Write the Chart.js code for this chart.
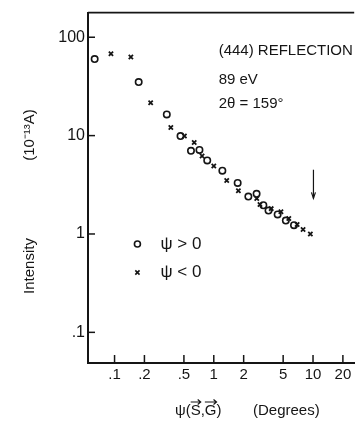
<!DOCTYPE html>
<html>
<head>
<meta charset="utf-8">
<script src="https://cdn.jsdelivr.net/npm/chart.js@4/dist/chart.umd.min.js"></script>
<style>
  html, body { margin: 0; padding: 0; background: #fff; }
  #wrap { width: 360px; height: 423px; }
</style>
</head>
<body>
<div id="wrap"><canvas id="myChart"></canvas></div>
<script>
// psi > 0 (open circles)
const posPsi = [0.063, 0.175, 0.336, 0.462, 0.589, 0.717, 0.859, 1.22, 1.74, 2.23, 2.70, 3.16, 3.56, 4.40, 5.32, 6.43];
const posInt = [60, 35, 16.4, 9.9, 7.0, 7.15, 5.6, 4.4, 3.3, 2.4, 2.56, 1.96, 1.73, 1.58, 1.37, 1.23];
// psi < 0 (crosses)
const negPsi = [0.092, 0.146, 0.231, 0.369, 0.506, 0.635, 0.762, 1.0, 1.35, 1.77, 2.71, 2.92, 3.79, 4.75, 5.70, 6.92, 7.94, 9.4];
const negInt = [68, 63, 21.6, 12.1, 9.9, 8.5, 6.2, 4.9, 3.5, 2.75, 2.3, 1.99, 1.81, 1.68, 1.44, 1.25, 1.11, 1.0];

const xTicks = [0.1, 0.2, 0.5, 1, 2, 5, 10, 20];
const xTickLabels = ['.1', '.2', '.5', '1', '2', '5', '10', '20'];
const yTicks = [0.1, 1, 10, 100];
const yTickLabels = ['.1', '1', '10', '100'];

const ink = '#151515';
const font = 'Liberation Sans, Arial, sans-serif';

function toPoints (xs, ys) {
  return xs.map((x, i) => ({ x: x, y: ys[i] }));
}

// little vector arrow over a letter
function vecArrow (ctx, x0, x1, y) {
  ctx.beginPath();
  ctx.moveTo(x0, y);
  ctx.lineTo(x1, y);
  ctx.moveTo(x1 - 3, y - 2.5);
  ctx.lineTo(x1, y);
  ctx.lineTo(x1 - 3, y + 2.5);
  ctx.stroke();
}

// inward ticks, top frame, notes, legend and axis titles
const decor = {
  id: 'decor',
  afterDraw (chart) {
    const ctx = chart.ctx;
    const xs = chart.scales.x;
    const ys = chart.scales.y;
    const area = chart.chartArea;
    ctx.save();
    ctx.strokeStyle = ink;
    ctx.fillStyle = ink;
    ctx.lineWidth = 1.8;

    // top frame line
    ctx.beginPath();
    ctx.moveTo(area.left, area.top);
    ctx.lineTo(area.right, area.top);
    ctx.stroke();

    // ticks pointing into the plot
    ctx.lineWidth = 1.5;
    xTicks.forEach(v => {
      const px = xs.getPixelForValue(v);
      ctx.beginPath();
      ctx.moveTo(px, area.bottom);
      ctx.lineTo(px, area.bottom - 8);
      ctx.stroke();
    });
    yTicks.forEach(v => {
      const py = ys.getPixelForValue(v);
      ctx.beginPath();
      ctx.moveTo(area.left, py);
      ctx.lineTo(area.left + 7, py);
      ctx.stroke();
    });

    // arrow at psi = 10
    const ax = xs.getPixelForValue(10.1);
    const ay1 = ys.getPixelForValue(4.5);
    const ay2 = ys.getPixelForValue(2.3);
    ctx.lineWidth = 1.2;
    ctx.beginPath();
    ctx.moveTo(ax, ay1);
    ctx.lineTo(ax, ay2);
    ctx.stroke();
    ctx.beginPath();
    ctx.moveTo(ax - 2, ay2 - 6);
    ctx.lineTo(ax, ay2);
    ctx.lineTo(ax + 2, ay2 - 6);
    ctx.stroke();

    // notes
    ctx.font = '15px ' + font;
    ctx.textBaseline = 'middle';
    ctx.textAlign = 'left';
    const nx = xs.getPixelForValue(1.12);
    ctx.fillText('(444) REFLECTION', nx, ys.getPixelForValue(72));
    ctx.fillText('89 eV', nx, ys.getPixelForValue(37));
    ctx.fillText('2θ = 159°', nx, ys.getPixelForValue(21.2));

    // legend
    const lx = xs.getPixelForValue(0.17);
    const ly1 = ys.getPixelForValue(0.79);
    const ly2 = ys.getPixelForValue(0.406);
    ctx.lineWidth = 1.6;
    ctx.fillStyle = 'rgba(0,0,0,0)';
    Chart.helpers.drawPoint(ctx, { pointStyle: 'circle', radius: 3, borderWidth: 1.6 }, lx, ly1);
    Chart.helpers.drawPoint(ctx, { pointStyle: 'crossRot', radius: 3, borderWidth: 1.8 }, lx, ly2);
    ctx.fillStyle = ink;
    ctx.font = '17px ' + font;
    ctx.fillText('ψ > 0', lx + 23, ly1);
    ctx.fillText('ψ < 0', lx + 23, ly2);

    // x title, with vector arrows over S and G
    ctx.font = '15px ' + font;
    const tx = 175, ty = 411;
    ctx.fillText('ψ(S,G)', tx, ty);
    const wPre = ctx.measureText('ψ(').width;
    const wS = ctx.measureText('S').width;
    const wPreG = ctx.measureText('ψ(S,').width;
    const wG = ctx.measureText('G').width;
    ctx.lineWidth = 1.2;
    vecArrow(ctx, tx + wPre, tx + wPre + wS, ty - 9);
    vecArrow(ctx, tx + wPreG, tx + wPreG + wG, ty - 9);
    ctx.fillText('(Degrees)', 253, ty);

    // y title
    ctx.translate(30, 0);
    ctx.rotate(-Math.PI / 2);
    ctx.textAlign = 'center';
    ctx.fillText('Intensity', -266, 0);
    ctx.fillText('(10⁻¹³A)', -135, 0);
    ctx.restore();
  }
};

const ctx = document.getElementById('myChart').getContext('2d');
const chart = new Chart(ctx, {
  type: 'scatter',
  data: {
    datasets: [{
      label: 'ψ > 0',
      data: toPoints(posPsi, posInt),
      pointStyle: 'circle',
      pointRadius: 3.2,
      pointBorderWidth: 1.6,
      borderColor: ink,
      backgroundColor: 'rgba(0,0,0,0)'
    }, {
      label: 'ψ < 0',
      data: toPoints(negPsi, negInt),
      pointStyle: 'crossRot',
      pointRadius: 3,
      pointBorderWidth: 1.8,
      borderColor: ink,
      backgroundColor: ink
    }]
  },
  options: {
    responsive: true,
    maintainAspectRatio: false,
    animation: false,
    layout: { padding: { top: 9, right: 0, left: 0, bottom: 0 } },
    plugins: {
      legend: { display: false },
      tooltip: { enabled: false }
    },
    scales: {
      x: {
        type: 'logarithmic',
        min: 0.054,
        max: 26,
        afterBuildTicks: s => { s.ticks = xTicks.map(v => ({ value: v })); },
        afterFit: s => { s.height = 60; },
        grid: { drawOnChartArea: false, drawTicks: false },
        border: { display: true, color: ink, width: 2 },
        ticks: {
          autoSkip: false,
          maxRotation: 0,
          padding: 3,
          color: ink,
          font: { family: font, size: 15 },
          callback: v => xTickLabels[xTicks.indexOf(v)] ?? ''
        }
      },
      y: {
        type: 'logarithmic',
        min: 0.0488,
        max: 178,
        afterBuildTicks: s => { s.ticks = yTicks.map(v => ({ value: v })); },
        afterFit: s => { s.width = 88; },
        grid: { drawOnChartArea: false, drawTicks: false },
        border: { display: true, color: ink, width: 2 },
        ticks: {
          autoSkip: false,
          padding: 3,
          color: ink,
          font: { family: font, size: 16 },
          callback: v => yTickLabels[yTicks.indexOf(v)] ?? ''
        }
      }
    }
  },
  plugins: [decor]
});
</script>
</body>
</html>
